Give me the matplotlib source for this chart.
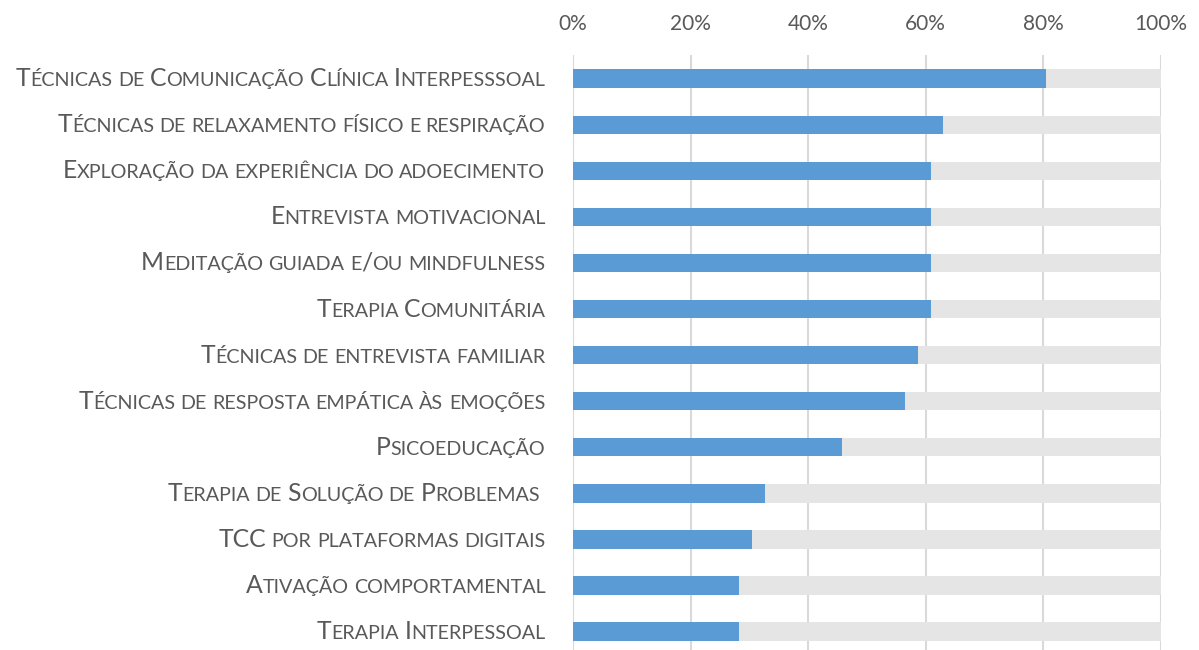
import matplotlib
matplotlib.use("Agg")
import matplotlib.pyplot as plt
from matplotlib.offsetbox import TextArea, HPacker, AnnotationBbox

# Dados (ordem de cima para baixo)
labels = [
    "Técnicas de Comunicação Clínica Interpesssoal",
    "Técnicas de relaxamento físico e respiração",
    "Exploração da experiência do adoecimento",
    "Entrevista motivacional",
    "Meditação guiada e/ou mindfulness",
    "Terapia Comunitária",
    "Técnicas de entrevista familiar",
    "Técnicas de resposta empática às emoções",
    "Psicoeducação",
    "Terapia de Solução de Problemas ",
    "TCC por plataformas digitais",
    "Ativação comportamental",
    "Terapia Interpessoal",
]
values = [80.4, 63.0, 60.9, 60.9, 60.9, 60.9, 58.7, 56.5, 45.7, 32.6, 30.4, 28.3, 28.3]
ticks = [0, 20, 40, 60, 80, 100]

BLUE = "#5b9bd5"
GRAY = "#e5e5e5"
TEXT = "#595959"
GRID = "#d9d9d9"
FONT = "Lato"


def small_caps(label, size):
    """Imita versalete: maiúsculas em tamanho cheio, minúsculas em maiúsculas menores."""
    words = []
    for word in label.split(" "):
        runs = []
        for ch in word:
            small = ch.islower()
            if runs and runs[-1][0] == small:
                runs[-1][1] += ch
            else:
                runs.append([small, ch])
        areas = [
            TextArea(t.upper(), textprops=dict(fontsize=size * 0.8 if s else size,
                                               color=TEXT, family=FONT))
            for s, t in runs
        ] or [TextArea("", textprops=dict(fontsize=size, family=FONT))]
        words.append(HPacker(children=areas, align="baseline", pad=0, sep=0))
    return HPacker(children=words, align="baseline", pad=0, sep=size * 0.22)


fig = plt.figure(figsize=(11.99, 6.5), dpi=100)
ax = fig.add_axes([573 / 1199, 0, (1161 - 573) / 1199, 1 - 55 / 650])

y = list(range(len(labels)))
rest = [100 - v for v in values]
ax.barh(y, values, height=0.41, color=BLUE, zorder=3)
ax.barh(y, rest, left=values, height=0.41, color=GRAY, zorder=3)

ax.set_xlim(0, 100)
ax.set_ylim(12.41, -0.52)
ax.set_xticks(ticks)
ax.set_xticklabels([f"{t}%" for t in ticks], fontsize=15, color=TEXT, family=FONT)
ax.xaxis.tick_top()
ax.tick_params(axis="x", length=0, pad=15)
ax.set_yticks([])
ax.grid(axis="x", color=GRID, linewidth=1.5, zorder=0)
for s in ax.spines.values():
    s.set_visible(False)

for yi, lab in zip(y, labels):
    ab = AnnotationBbox(small_caps(lab, 17.8), (-0.047, yi),
                        xycoords=("axes fraction", "data"),
                        box_alignment=(1, 0.5), frameon=False, pad=0,
                        annotation_clip=False)
    ax.add_artist(ab)

fig.savefig("out.png", dpi=100)
